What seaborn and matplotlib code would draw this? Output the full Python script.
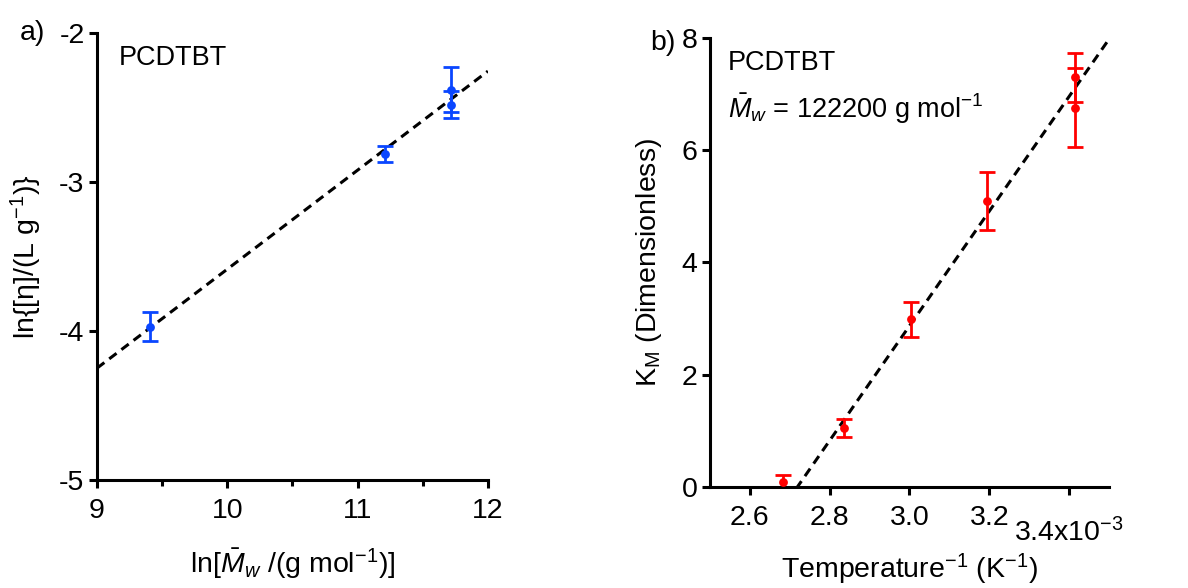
import numpy as np
import pandas as pd
import matplotlib
matplotlib.use('Agg')
import matplotlib.pyplot as plt
import seaborn as sns

# --- data ---
# a) Mark-Houwink plot
ln_mw = [9.41, 11.21, 11.72, 11.72]
ln_eta = [-3.97, -2.81, -2.38, -2.48]
ln_eta_err = [0.10, 0.055, 0.15, 0.09]

# b) K_M against 1/T (x in units of 1e-3 K^-1)
inv_temp = [2.683, 2.835, 3.005, 3.195, 3.415, 3.415]
km = [0.09, 1.05, 2.99, 5.09, 7.30, 6.76]
km_err = [0.13, 0.16, 0.31, 0.52, 0.44, 0.70]
fit_b_start = 1  # first point is left out of the linear fit

ticks_a_x = [9, 10, 11, 12]
ticks_a_y = [-5, -4, -3, -2]
ticks_b_x = [2.6, 2.8, 3.0, 3.2, 3.4]
tick_labels_b_x = ['2.6', '2.8', '3.0', '3.2', '3.4x10$^{-3}$']
ticks_b_y = [0, 2, 4, 6, 8]

BLUE = '#0a46ff'
RED = '#ff0000'

sns.set_style('ticks')
plt.rcParams['font.family'] = ['Liberation Sans', 'DejaVu Sans']
plt.rcParams['mathtext.fontset'] = 'custom'
plt.rcParams['mathtext.rm'] = 'Liberation Sans'
plt.rcParams['mathtext.it'] = 'Liberation Sans:italic'
plt.rcParams['mathtext.bf'] = 'Liberation Sans:bold'
plt.rcParams['axes.unicode_minus'] = False
for k in ['text.color', 'axes.labelcolor', 'xtick.color', 'ytick.color']:
    plt.rcParams[k] = 'black'

FS = 20.5
LW = 2.2

df_a = pd.DataFrame({'x': ln_mw, 'y': ln_eta, 'err': ln_eta_err})
df_b = pd.DataFrame({'x': inv_temp, 'y': km, 'err': km_err})

fig = plt.figure(figsize=(11.88, 5.88), dpi=100)
ax1 = fig.add_axes([0.0817, 0.1837, 0.329, 0.760])
ax2 = fig.add_axes([0.5976, 0.1718, 0.3359, 0.7636])


def style_axes(ax):
    sns.despine(ax=ax)
    for s in ['left', 'bottom']:
        ax.spines[s].set_linewidth(LW)
        ax.spines[s].set_color('black')
    ax.tick_params(which='major', direction='out', length=6, width=LW,
                   labelsize=FS, color='black', pad=3)
    ax.tick_params(axis='x', which='major', pad=7)
    ax.tick_params(which='minor', direction='out', length=4, width=LW, color='black')


# ---- panel a ----
slope_a, icpt_a = np.polyfit(df_a['x'], df_a['y'], 1)
xa = np.array([9.0, 12.0])
sns.lineplot(x=xa, y=slope_a * xa + icpt_a, ax=ax1, color='black', lw=LW,
             linestyle=(0, (3, 2)))
ax1.errorbar(df_a['x'], df_a['y'], yerr=df_a['err'], fmt='none', ecolor=BLUE,
             elinewidth=2, capsize=6, capthick=2)
sns.scatterplot(data=df_a, x='x', y='y', ax=ax1, color=BLUE, s=40,
                edgecolor=BLUE, linewidth=0, zorder=4)
ax1.set_xlim(9, 12)
ax1.set_ylim(-5, -2)
ax1.set_xticks(ticks_a_x)
ax1.set_xticks([9.5, 10.5, 11.5], minor=True)
ax1.set_yticks(ticks_a_y)
style_axes(ax1)
ax1.set_xlabel(r'ln[$\bar{M}_w$ /(g mol$^{-1}$)]', fontsize=FS)
ax1.set_ylabel(r'ln{[η]/(L g$^{-1}$)}', fontsize=FS)
ax1.xaxis.set_label_coords(0.5, -0.208)
ax1.xaxis.label.set_verticalalignment('baseline')
ax1.yaxis.set_label_coords(-0.135, 0.5)
ax1.text(0.056, 0.928, 'PCDTBT', transform=ax1.transAxes, fontsize=19.5, va='baseline')

# ---- panel b ----
slope_b, icpt_b = np.polyfit(df_b['x'][fit_b_start:], df_b['y'][fit_b_start:], 1)
xb = np.array([2.5, 3.5])
sns.lineplot(x=xb, y=slope_b * xb + icpt_b, ax=ax2, color='black', lw=LW,
             linestyle=(0, (3, 2)))
ax2.errorbar(df_b['x'], df_b['y'], yerr=df_b['err'], fmt='none', ecolor=RED,
             elinewidth=2, capsize=6, capthick=2)
sns.scatterplot(data=df_b, x='x', y='y', ax=ax2, color=RED, s=40,
                edgecolor=RED, linewidth=0, zorder=4)
ax2.set_xlim(2.5, 3.5)
ax2.set_ylim(0, 8)
ax2.set_xticks(ticks_b_x)
ax2.set_xticklabels(tick_labels_b_x)
ax2.set_yticks(ticks_b_y)
style_axes(ax2)
# last tick label sits lower in the original
ax2.get_xticklabels()[-1].set_y(-0.03)
ax2.set_xlabel(r'Temperature$^{-1}$ (K$^{-1}$)', fontsize=FS)
ax2.set_ylabel(r'K$_{\mathrm{M}}$ (Dimensionless)', fontsize=FS)
ax2.xaxis.set_label_coords(0.5, -0.203)
ax2.xaxis.label.set_verticalalignment('baseline')
ax2.yaxis.set_label_coords(-0.115, 0.5)
ax2.text(0.045, 0.929, 'PCDTBT', transform=ax2.transAxes, fontsize=19.5, va='baseline')
ax2.text(0.045, 0.822, r'$\bar{M}_w$ = 122200 g mol$^{-1}$', transform=ax2.transAxes,
         fontsize=19.5, va='baseline')

fig.text(20 / 1188, 1 - 40 / 588, 'a)', fontsize=FS, va='baseline')
fig.text(650 / 1188, 1 - 50 / 588, 'b)', fontsize=FS, va='baseline')

fig.savefig('out.png', dpi=100)
